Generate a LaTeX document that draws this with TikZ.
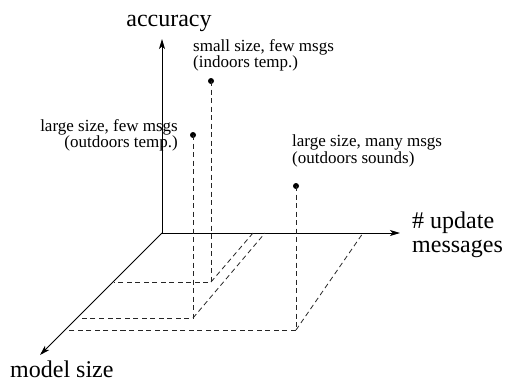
\documentclass[tikz,border=0pt]{standalone}
\usepackage{fontspec}
\setmainfont{Liberation Serif}
\usetikzlibrary{arrows.meta}
\begin{document}
\begin{tikzpicture}[x=1bp,y=-1bp,
  axis/.style={line width=0.9bp, -{Stealth[length=10bp,width=6bp,inset=2.5bp]}},
  guide/.style={line width=0.8bp, dash pattern=on 5bp off 3.5bp, black!85},
  dot/.style={circle, fill, inner sep=0pt, minimum size=6bp},
  biglbl/.style={inner sep=0pt, font=\fontsize{24bp}{28bp}\selectfont},
  smalllbl/.style={inner sep=0pt, font=\fontsize{17bp}{20bp}\selectfont}]
\useasboundingbox (0,0) rectangle (505,381);
% axes
\coordinate (O) at (162,233);
\coordinate (Ytip) at (162,39);
\coordinate (Xtip) at (400,233);
\coordinate (Ztip) at (40,355);
\draw[axis] (O) -- (Ytip);
\draw[axis] (O) -- (Xtip);
\draw[axis] (O) -- (Ztip);
% points
\node[dot] (p1) at (211,81) {};
\node[dot] (p2) at (193,135) {};
\node[dot] (p3) at (296,186) {};
% feet and projections
\coordinate (f1) at (211,282);
\coordinate (z1) at (114,282);
\coordinate (x1) at (253,233);
\coordinate (f2) at (193,318);
\coordinate (z2) at (79,318);
\coordinate (x2) at (265,233);
\coordinate (f3) at (296,330);
\coordinate (z3) at (67,330);
\coordinate (x3) at (363,233);
\draw[guide] (p1.center) -- (f1) -- (z1);
\draw[guide] (f1) -- (x1);
\draw[guide] (p2.center) -- (f2) -- (z2);
\draw[guide] (f2) -- (x2);
\draw[guide] (p3.center) -- (f3) -- (z3);
\draw[guide] (f3) -- (x3);
% axis labels
\node[biglbl, anchor=base] (laby) at (169,26.5) {accuracy};
\node[biglbl, anchor=base west] (labx1) at (412,228) {\# update};
\node[biglbl, anchor=base west] (labx2) at (412,252) {messages};
\node[biglbl, anchor=base west] (labz) at (10,377) {model size};
% point labels
\node[smalllbl, anchor=base west] (l1a) at (193,51.5) {small size, few msgs};
\node[smalllbl, anchor=base west] (l1b) at (193,67) {(indoors temp.)};
\node[smalllbl, anchor=base east] (l2a) at (178,131.5) {large size, few msgs};
\node[smalllbl, anchor=base east] (l2b) at (178,147) {(outdoors temp.)};
\node[smalllbl, anchor=base west] (l3a) at (292,146.5) {large size, many msgs};
\node[smalllbl, anchor=base west] (l3b) at (292,163) {(outdoors sounds)};
\end{tikzpicture}
\end{document}
